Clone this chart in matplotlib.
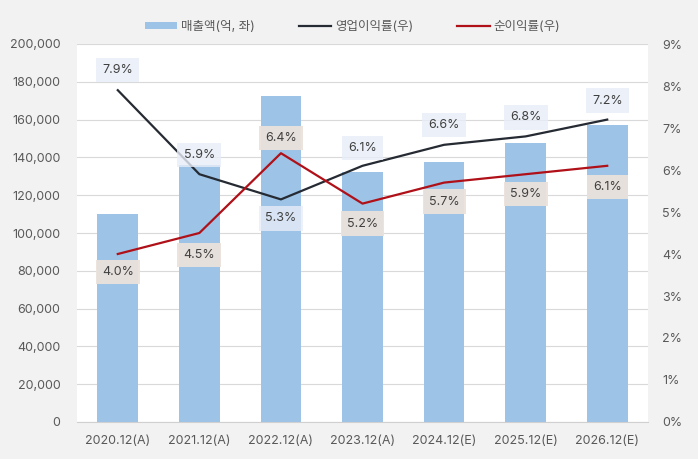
import numpy as np
import matplotlib
matplotlib.use("Agg")
import matplotlib.pyplot as plt
from matplotlib.ticker import FuncFormatter, MultipleLocator

plt.rcParams['font.family'] = ['Inter', 'Noto Sans CJK KR', 'DejaVu Sans']

years = ["2020.12(A)", "2021.12(A)", "2022.12(A)", "2023.12(A)", "2024.12(E)", "2025.12(E)", "2026.12(E)"]
sales = [110000, 136000, 172500, 132500, 137700, 147800, 157100]
op_margin = [7.9, 5.9, 5.3, 6.1, 6.6, 6.8, 7.2]
net_margin = [4.0, 4.5, 6.4, 5.2, 5.7, 5.9, 6.1]

# label offsets in pixels (positive = above point)
op_off = [20, 19, -19, 18, 20, 19, 19]
net_off = [-18, -22, 15, -20, -19, -20, -21]

BG = "#f2f2f2"
TXT = "#595959"
fig = plt.figure(figsize=(6.98, 4.59), dpi=100, facecolor=BG)
ax = fig.add_axes([77/698, 1 - 422/459, (648-77)/698, (422-44)/459])
ax.set_facecolor("white")
x = np.arange(len(years))

ax.bar(x, sales, width=0.5, color="#9dc3e6", zorder=2, label="매출액(억, 좌)")
ax.set_ylim(0, 200000)
ax.set_xlim(-0.5, len(years) - 0.5)
ax.yaxis.set_major_locator(MultipleLocator(20000))
ax.yaxis.set_major_formatter(FuncFormatter(lambda v, p: f"{int(v):,}"))
ax.grid(axis="y", color="#d9d9d9", lw=0.8, zorder=0)
ax.set_axisbelow(True)
ax.set_xticks(x)
ax.set_xticklabels(years)
for sp in ["top", "right", "left"]:
    ax.spines[sp].set_visible(False)
ax.spines["bottom"].set_color("#d0d0d0")
ax.tick_params(axis="both", length=0, colors=TXT, labelsize=9)
ax.tick_params(axis="x", pad=9)
ax.tick_params(axis="y", pad=12)

ax2 = ax.twinx()
ax2.set_ylim(0, 9)
ax2.yaxis.set_major_locator(MultipleLocator(1))
ax2.yaxis.set_major_formatter(FuncFormatter(lambda v, p: f"{int(v)}%"))
for sp in ax2.spines.values():
    sp.set_visible(False)
ax2.tick_params(axis="y", length=0, colors=TXT, labelsize=9, pad=10)

l1, = ax2.plot(x, op_margin, color="#262b33", lw=1.6, label="영업이익률(우)", zorder=3)
l2, = ax2.plot(x, net_margin, color="#b01018", lw=1.6, label="순이익률(우)", zorder=3)

for xi, v, o in zip(x, op_margin, op_off):
    ax2.annotate(f"{v:.1f}%", (xi, v), xytext=(0, o * 0.72), textcoords="offset points",
                 ha="center", va="center", fontsize=9, color="#404040",
                 bbox=dict(boxstyle="square,pad=0.5", fc="#e8edf7", ec="none", alpha=0.8), zorder=4)
for xi, v, o in zip(x, net_margin, net_off):
    ax2.annotate(f"{v:.1f}%", (xi, v), xytext=(0, o * 0.72), textcoords="offset points",
                 ha="center", va="center", fontsize=9, color="#404040",
                 bbox=dict(boxstyle="square,pad=0.5", fc="#ebe2dc", ec="none", alpha=0.95), zorder=4)

handles = [ax.patches[0], l1, l2]
labels = ["매출액(억, 좌)", "영업이익률(우)", "순이익률(우)"]
fig.legend(handles, labels, loc="center", bbox_to_anchor=(0.505, 1 - 27/459), ncol=3,
           frameon=False, fontsize=9, labelcolor=TXT, handlelength=2.6,
           handleheight=0.5, columnspacing=3.5, handletextpad=0.3)

fig.savefig("out.png", dpi=100, facecolor=BG)
